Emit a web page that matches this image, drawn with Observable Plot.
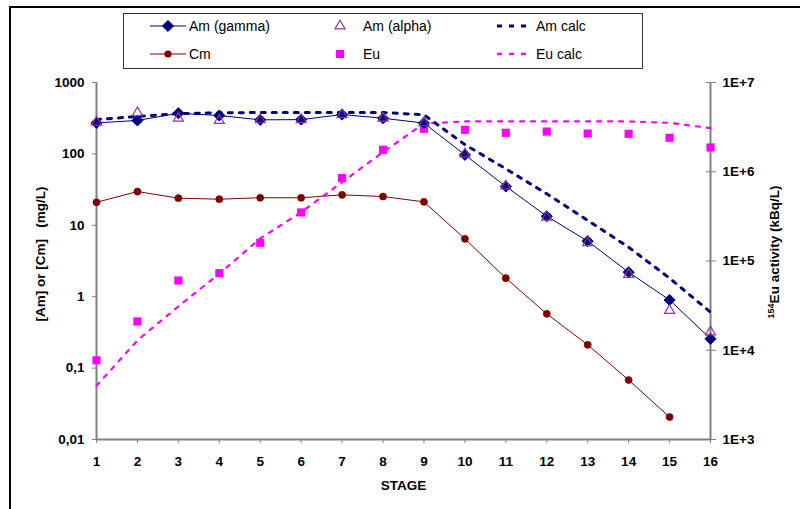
<!DOCTYPE html>
<html><head><meta charset="utf-8">
<script src="https://cdn.jsdelivr.net/npm/d3@7"></script>
<script src="https://cdn.jsdelivr.net/npm/@observablehq/plot@0.6"></script>
<style>
body{margin:0;background:#fff;font-family:"Liberation Sans",Arial,sans-serif;}
#wrap{position:relative;width:800px;height:509px;overflow:hidden;background:#fff;}
#frame{position:absolute;left:9px;top:6px;width:820px;height:540px;border-left:2px solid #000;border-top:2px solid #000;box-sizing:border-box;}
#chart{position:absolute;left:0;top:0;}
#legend{position:absolute;left:0;top:0;}
</style></head><body>
<div id="wrap"><div id="frame"></div><div id="chart"></div><div id="legend"></div></div>
<script>
// ---- data ----
const stages = [1,2,3,4,5,6,7,8,9,10,11,12,13,14,15,16];
const amGamma = [272, 294, 371, 345, 300, 302, 356, 316, 270, 97, 35, 13.4, 6.0, 2.2, 0.90, 0.257];
const amAlpha = [278, 376, 316, 294, 300, 302, 354, 316, 272, 100, 35.5, 13, 5.7, 2.05, 0.64, 0.32];
const amCalc  = [303, 334, 365, 376, 380, 380, 380, 380, 353, 135, 61.8, 27.6, 11.7, 4.93, 1.82, 0.607];
const cm      = [21, 29.7, 24, 23.2, 24.3, 24.3, 26.7, 25.3, 21.3, 6.46, 1.82, 0.575, 0.212, 0.068, 0.0206, null];
// Eu activity in kBq/L (right axis)
const eu      = [7.7e3, 2.1e4, 6.05e4, 7.3e4, 1.6e5, 3.5e5, 8.5e5, 1.76e6, 3.03e6, 2.95e6, 2.73e6, 2.82e6, 2.68e6, 2.66e6, 2.4e6, 1.87e6];
const euCalc  = [4.0e3, 1.29e4, 3.1e4, 7.2e4, 1.79e5, 3.52e5, 7.64e5, 1.66e6, 3.47e6, 3.66e6, 3.66e6, 3.66e6, 3.66e6, 3.66e6, 3.53e6, 3.08e6];

const leftTicks = [0.01, 0.1, 1, 10, 100, 1000];
const leftTickLabels = ["0,01", "0,1", "1", "10", "100", "1000"];
const euTicks = [1e3, 1e4, 1e5, 1e6, 1e7];
const euTickLabels = ["1E+3", "1E+4", "1E+5", "1E+6", "1E+7"];

const legendItems = [
  {label: "Am (gamma)", kind: "amGamma"},
  {label: "Cm", kind: "cm"},
  {label: "Am (alpha)", kind: "amAlpha"},
  {label: "Eu", kind: "eu"},
  {label: "Am calc", kind: "amCalc"},
  {label: "Eu calc", kind: "euCalc"}
];

// right axis (1E+3..1E+7) maps onto left axis (0.01..1000)
const toLeft = v => Math.pow(10, -2 + (Math.log10(v) - 3) * 1.25);

const rows = stages.map((s, i) => ({
  stage: s, amGamma: amGamma[i], amAlpha: amAlpha[i], amCalc: amCalc[i],
  cm: cm[i], eu: toLeft(eu[i]), euCalc: toLeft(euCalc[i])
}));
const cmRows = rows.filter(d => d.cm != null);
const rightTickRows = euTicks.map((v, i) => ({pos: toLeft(v), label: euTickLabels[i]}));

const NAVY = "#000080", MAROON = "#800000", MAG = "#FF00FF", PURP = "#993399", GRAY = "#808080";
const FONT = "'Liberation Sans', Arial, sans-serif";

const plot = Plot.plot({
  width: 800, height: 509,
  marginLeft: 96, marginRight: 90, marginTop: 82, marginBottom: 70,
  style: {fontFamily: FONT, fontSize: "13.5px", color: "#000", background: "transparent"},
  x: {type: "linear", domain: [1, 16]},
  y: {type: "log", domain: [0.01, 1000]},
  marks: [
    Plot.ruleY([0.01], {stroke: GRAY, strokeWidth: 2}),
    Plot.ruleX([1, 16], {stroke: GRAY, strokeWidth: 2}),
    Plot.axisX(stages, {tickSize: 4, tickPadding: 13, stroke: GRAY, fontWeight: "bold", fontSize: 13.5, label: null, tickFormat: d => String(d)}),
    Plot.axisY(leftTicks, {anchor: "left", tickSize: 4, tickPadding: 8, stroke: GRAY, fontWeight: "bold", fontSize: 13.5, label: null,
      tickFormat: d => leftTickLabels[leftTicks.indexOf(d)]}),
    Plot.axisY(rightTickRows.map(d => d.pos), {anchor: "right", tickSize: 10, dx: -5, stroke: GRAY, label: null, tickFormat: null, text: null}),
    Plot.text(rightTickRows, {y: "pos", text: "label", frameAnchor: "right", dx: 12, textAnchor: "start", fontWeight: "bold", fontSize: 13.5, fill: "#000"}),
    Plot.text(["STAGE"], {frameAnchor: "bottom", dy: 50, fontWeight: "bold", fontSize: 13.5}),
    Plot.text(["[Am] or [Cm]\u00a0\u00a0\u00a0(mg/L)"], {frameAnchor: "left", textAnchor: "middle", dx: -56, dy: -7, rotate: -90, fontWeight: "bold", fontSize: 13.5}),
    // lines
    Plot.line(cmRows, {x: "stage", y: "cm", stroke: MAROON, strokeWidth: 1}),
    Plot.line(rows, {x: "stage", y: "amGamma", stroke: NAVY, strokeWidth: 1}),
    Plot.line(rows, {x: "stage", y: "euCalc", stroke: MAG, strokeWidth: 2.2, strokeDasharray: "4,7"}),
    Plot.line(rows, {x: "stage", y: "amCalc", stroke: NAVY, strokeWidth: 3, strokeDasharray: "4,7"}),
    // markers
    Plot.dot(cmRows, {x: "stage", y: "cm", r: 3.6, fill: MAROON, stroke: MAROON, strokeWidth: 0.5}),
    Plot.dot(rows, {x: "stage", y: "eu", symbol: "square", r: 4.6, fill: MAG, stroke: "none"}),
    Plot.dot(rows, {x: "stage", y: "amGamma", symbol: "diamond2", r: 5, fill: NAVY, stroke: NAVY, strokeWidth: 1}),
    Plot.dot(rows, {x: "stage", y: "amAlpha", symbol: "triangle2", r: 4.8, fill: "none", stroke: PURP, strokeWidth: 1.2})
  ]
});
document.getElementById("chart").appendChild(plot);

// right axis title with superscript
const svg = d3.select(plot);
const rt = svg.append("text")
  .attr("transform", "translate(779,252) rotate(-90)")
  .attr("text-anchor", "middle")
  .attr("font-family", FONT).attr("font-weight", "bold").attr("font-size", 13.5)
  .attr("fill", "#000");
rt.append("tspan").attr("font-size", 9).attr("dy", -5).text("154");
rt.append("tspan").attr("dy", 5).text("Eu activity (kBq/L)");

// legend
const lg = d3.select("#legend").append("svg").attr("width", 800).attr("height", 75)
  .style("font-family", FONT);
lg.append("rect").attr("x", 123.5).attr("y", 13.5).attr("width", 519).attr("height", 55)
  .attr("fill", "#fff").attr("stroke", "#333").attr("stroke-width", 1);
const cols = [{sx: 168, lx1: 150, lx2: 186, tx: 189}, {sx: 340, tx: 363}, {sx: 0, lx1: 497, lx2: 533, tx: 536}];
const rowY = [26, 54];
legendItems.forEach((it, i) => {
  const c = cols[Math.floor(i / 2)], y = rowY[i % 2];
  const g = lg.append("g");
  if (it.kind === "amGamma" || it.kind === "cm") {
    const col = it.kind === "amGamma" ? NAVY : MAROON;
    g.append("line").attr("x1", c.lx1).attr("x2", c.lx2).attr("y1", y).attr("y2", y).attr("stroke", col).attr("stroke-width", 1);
    if (it.kind === "amGamma")
      g.append("path").attr("d", d3.symbol(d3.symbolDiamond2, Math.PI * 25)()).attr("transform", `translate(${c.sx},${y})`).attr("fill", NAVY).attr("stroke", NAVY);
    else
      g.append("circle").attr("cx", c.sx).attr("cy", y).attr("r", 3.6).attr("fill", MAROON);
  } else if (it.kind === "amAlpha") {
    g.append("path").attr("d", d3.symbol(d3.symbolTriangle2, Math.PI * 4.8 * 4.8)()).attr("transform", `translate(${c.sx},${y})`).attr("fill", "none").attr("stroke", PURP).attr("stroke-width", 1.2);
  } else if (it.kind === "eu") {
    g.append("path").attr("d", d3.symbol(d3.symbolSquare, Math.PI * 4.6 * 4.6)()).attr("transform", `translate(${c.sx},${y})`).attr("fill", MAG);
  } else {
    const col = it.kind === "amCalc" ? NAVY : MAG;
    g.append("line").attr("x1", c.lx1).attr("x2", c.lx2).attr("y1", y).attr("y2", y).attr("stroke", col)
      .attr("stroke-width", it.kind === "amCalc" ? 3 : 2.5).attr("stroke-dasharray", "5,7");
  }
  g.append("text").attr("x", c.tx).attr("y", y).attr("dy", "0.35em").attr("font-size", 14).attr("fill", "#000").text(it.label);
});
</script>
</body></html>
